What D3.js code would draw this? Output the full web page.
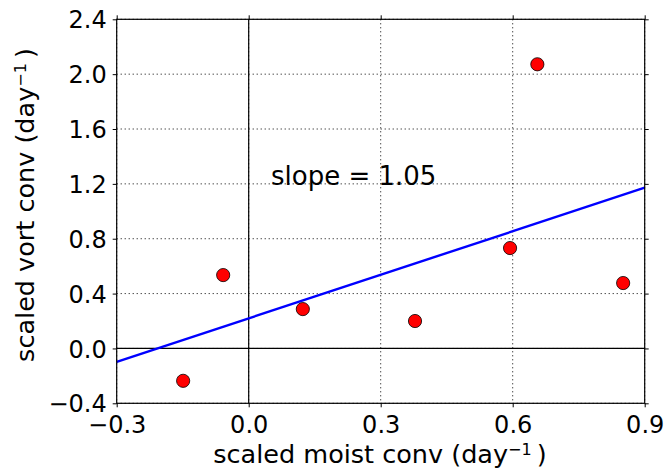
<!DOCTYPE html>
<html><head><meta charset="utf-8">
<script src="https://cdn.jsdelivr.net/npm/d3@7"></script>
<style>body{margin:0;background:#fff}text{font-family:"DejaVu Sans",sans-serif}</style>
</head><body><svg id="c" width="669" height="472"></svg>
<script>
const pointsX = [-0.149, -0.058, 0.123, 0.378, 0.594, 0.656, 0.851];
const pointsY = [-0.236, 0.535, 0.287, 0.200, 0.732, 2.072, 0.477];
const fitX = [-0.3, 0.9];
const fitY = [-0.098, 1.172];
const xTicks = [-0.3, 0.0, 0.3, 0.6, 0.9];
const yTicks = [-0.4, 0.0, 0.4, 0.8, 1.2, 1.6, 2.0, 2.4];
const slopeLabel = "slope = 1.05";

const svg = d3.select("#c");
const L = 116.7, R = 644.7, T = 19.3, B = 403.3;
const x = d3.scaleLinear().domain([-0.3, 0.9]).range([L, R]);
const y = d3.scaleLinear().domain([-0.4, 2.4]).range([B, T]);
const fmt = v => (v < 0 ? "\u2212" : "") + Math.abs(v).toFixed(1);

// grid
const g = svg.append("g");
g.selectAll(".gx").data(xTicks).enter().append("line")
  .attr("x1", d => x(d)).attr("x2", d => x(d)).attr("y1", T).attr("y2", B)
  .attr("stroke", "#000").attr("stroke-width", 1).attr("stroke-dasharray", "1,3");
g.selectAll(".gy").data(yTicks).enter().append("line")
  .attr("y1", d => y(d)).attr("y2", d => y(d)).attr("x1", L).attr("x2", R)
  .attr("stroke", "#000").attr("stroke-width", 1).attr("stroke-dasharray", "1,3");

// zero lines
svg.append("line").attr("x1", x(0)).attr("x2", x(0)).attr("y1", T).attr("y2", B).attr("stroke", "#000").attr("stroke-width", 1.2);
svg.append("line").attr("y1", y(0)).attr("y2", y(0)).attr("x1", L).attr("x2", R).attr("stroke", "#000").attr("stroke-width", 1.2);

// axes
const tk = 4;
const xb = svg.append("g").attr("transform", `translate(0,${B})`).call(d3.axisBottom(x).tickValues(xTicks).tickFormat(fmt).tickSize(tk).tickSizeOuter(0));
const xt = svg.append("g").attr("transform", `translate(0,${T})`).call(d3.axisTop(x).tickValues(xTicks).tickFormat("").tickSize(tk).tickSizeOuter(0));
const yl = svg.append("g").attr("transform", `translate(${L},0)`).call(d3.axisLeft(y).tickValues(yTicks).tickFormat(fmt).tickSize(tk).tickSizeOuter(0));
const yr = svg.append("g").attr("transform", `translate(${R},0)`).call(d3.axisRight(y).tickValues(yTicks).tickFormat("").tickSize(tk).tickSizeOuter(0));
[xb, xt, yl, yr].forEach(a => { a.select(".domain").remove(); a.selectAll("line").attr("stroke", "#000"); });
xb.selectAll("text").attr("font-size", 24).attr("fill", "#000").attr("dy", null).attr("y", 30);
yl.selectAll("text").attr("font-size", 24).attr("fill", "#000").attr("x", -10).attr("dy", "0.36em");

// line fit
svg.append("line").attr("x1", x(fitX[0])).attr("y1", y(fitY[0])).attr("x2", x(fitX[1])).attr("y2", y(fitY[1]))
  .attr("stroke", "#0000ff").attr("stroke-width", 2.4);

// points
svg.selectAll(".pt").data(pointsX).enter().append("circle")
  .attr("cx", d => x(d)).attr("cy", (d, i) => y(pointsY[i])).attr("r", 6.6)
  .attr("fill", "#ff0000").attr("stroke", "#000").attr("stroke-width", 0.8);

// frame
svg.append("rect").attr("x", L).attr("y", T).attr("width", R - L).attr("height", B - T)
  .attr("fill", "none").attr("stroke", "#000").attr("stroke-width", 1.2);

// slope text
svg.append("text").attr("x", 271).attr("y", 185).attr("font-size", 26).text(slopeLabel);

// axis labels
const xl = svg.append("text").attr("x", 380).attr("y", 463).attr("text-anchor", "middle").attr("font-size", 25.5);
xl.append("tspan").text("scaled moist conv (day");
xl.append("tspan").attr("dy", -8).attr("font-size", 16).text("\u22121");
xl.append("tspan").attr("dy", 8).text("\u2009)");

const ylab = svg.append("text").attr("transform", `translate(33.5,205) rotate(-90)`).attr("text-anchor", "middle").attr("font-size", 25.5);
ylab.append("tspan").text("scaled vort conv (day");
ylab.append("tspan").attr("dy", -8).attr("font-size", 16).text("\u22121");
ylab.append("tspan").attr("dy", 8).text("\u2009)");
</script></body></html>
